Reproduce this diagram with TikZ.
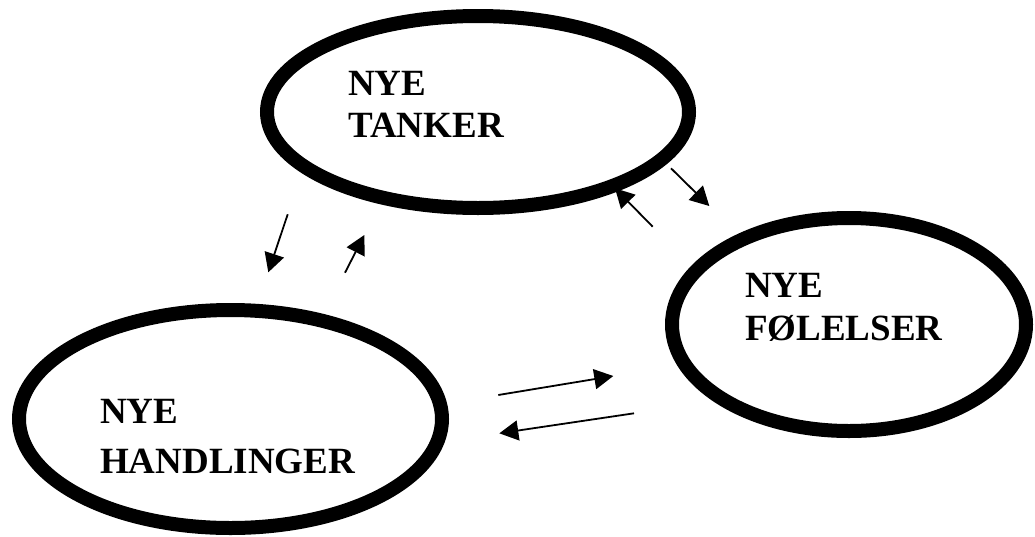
\documentclass[tikz,border=0pt]{standalone}
\usepackage{fontspec}
\setmainfont{Liberation Serif}
\usetikzlibrary{shapes.geometric,arrows.meta}
\begin{document}
\begin{tikzpicture}[x=1pt,y=-1pt,
  ell/.style={draw=black,line width=14pt,ellipse,inner sep=0pt,outer sep=0pt},
  lbl/.style={anchor=base west,inner sep=0pt,font=\fontsize{37}{44}\selectfont\bfseries},
  arr/.style={line width=1.8pt,-{Triangle[length=19pt,width=20pt]}}]
\useasboundingbox[fill=white] (0,0) rectangle (1035,536);
% ellipses
\node[ell,minimum width=422pt,minimum height=192pt] (e1) at (478,112) {};
\node[ell,minimum width=354pt,minimum height=213pt] (e2) at (849,324.5) {};
\node[ell,minimum width=423pt,minimum height=218pt] (e3) at (230.5,419) {};
% labels
\node[lbl] (t1a) at (348,95) {NYE};
\node[lbl] (t1b) at (348,137) {TANKER};
\node[lbl] (t2a) at (745,297) {NYE};
\node[lbl] (t2b) at (745,340) {FØLELSER};
\node[lbl] (t3a) at (100,423) {NYE};
\node[lbl] (t3b) at (100,473) {HANDLINGER};
% arrow end points
\coordinate (a1s) at (287.7,214.3);
\coordinate (a1e) at (268.3,272.3);
\coordinate (a2s) at (345,272.7);
\coordinate (a2e) at (364.3,235);
\coordinate (a3s) at (671,168.3);
\coordinate (a3e) at (709.3,206);
\coordinate (a4s) at (652.7,226.7);
\coordinate (a4e) at (615,188.3);
\coordinate (a5s) at (498.3,395);
\coordinate (a5e) at (613.3,376);
\coordinate (a6s) at (634,413.3);
\coordinate (a6e) at (499.3,433.3);
% arrows
\draw[arr] (a1s) -- (a1e);
\draw[arr] (a2s) -- (a2e);
\draw[arr] (a3s) -- (a3e);
\draw[arr] (a4s) -- (a4e);
\draw[arr] (a5s) -- (a5e);
\draw[arr] (a6s) -- (a6e);
\end{tikzpicture}
\end{document}
